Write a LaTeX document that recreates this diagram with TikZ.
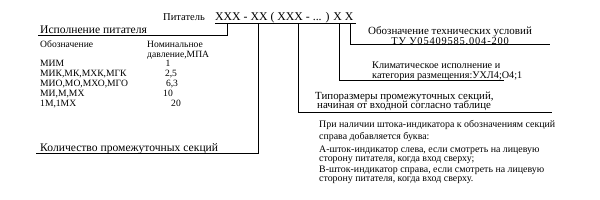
\documentclass[tikz,border=0pt]{standalone}
\usepackage{fontspec}
\setmainfont{Liberation Serif}
\begin{document}
\begin{tikzpicture}[x=1pt,y=-1pt,
  big/.style={anchor=base west,inner sep=0pt,font=\fontsize{11.6}{12}\selectfont},
  mid/.style={anchor=base west,inner sep=0pt,font=\fontsize{10.2}{11}\selectfont},
  sm/.style={anchor=base west,inner sep=0pt,font=\fontsize{9.6}{10}\selectfont},
  para/.style={anchor=base west,inner sep=0pt,font=\fontsize{9.9}{10}\selectfont},
  smc/.style={anchor=base,inner sep=0pt,font=\fontsize{9.6}{10}\selectfont},
  ln/.style={line width=0.8pt}]
\useasboundingbox (0,0) rectangle (600,200);
% header
\node[anchor=base west,inner sep=0pt,font=\fontsize{10.5}{12}\selectfont] (pit) at (163,21) {Питатель};
\node[anchor=base west,inner sep=0pt,font=\fontsize{11.8}{12}\selectfont] (code) at (215,21) {XXX - XX ( XXX - ... ) X X};
\coordinate (u0) at (215,23.3);
\coordinate (u1) at (356,23.3);
\draw[ln] (u0) -- (u1);
% table
\node[big] (isp) at (40,34) {Исполнение питателя};
\node[sm] (obz) at (40,47.5) {Обозначение};
\node[sm] (nom) at (147,47.5) {Номинальное};
\node[sm] (dav) at (147,57.5) {давление,МПА};
\node[sm] (r1) at (40,67) {МИМ};
\node[sm] (r2) at (40,77) {МИК,МК,МХК,МГК};
\node[sm] (r3) at (40,87) {МИО,МО,МХО,МГО};
\node[sm] (r4) at (40,97) {МИ,М,МХ};
\node[sm] (r5) at (40,107) {1М,1МХ};
\node[smc] (v1) at (168,67) {1};
\node[smc] (v2) at (171,77) {2,5};
\node[smc] (v3) at (172,87) {6,3};
\node[smc] (v4) at (168,97) {10};
\node[smc] (v5) at (176,107) {20};
\node[big] (kol) at (40,152) {Количество промежуточных секций};
% right labels
\node[anchor=base west,inner sep=0pt,font=\fontsize{11}{12}\selectfont] (obt) at (368,34.5) {Обозначение технических условий};
\node[anchor=base,inner sep=0pt,font=\fontsize{10.4}{11}\selectfont\addfontfeature{LetterSpace=8}] (tu) at (obt.base |- 0,44.4) {ТУ У05409585.004-200};
\node[mid] (kl1) at (372,68.5) {Климатическое исполнение и};
\node[mid] (kl2) at (372,78.5) {категория размещения:УХЛ4;О4;1};
\node[anchor=base west,inner sep=0pt,font=\fontsize{10.9}{11}\selectfont] (tip1) at (315,99.5) {Типоразмеры промежуточных секций,};
\node[anchor=base west,inner sep=0pt,font=\fontsize{10.9}{11}\selectfont] (tip2) at (317,109) {начиная от входной согласно таблице};
\node[para] (p1) at (319,128) {При наличии штока-индикатора к обозначениям секций};
\node[para] (p2) at (319,139.5) {справа добавляется буква:};
\node[para] (p3) at (319,153) {А-шток-индикатор слева, если смотреть на лицевую};
\node[para] (p4) at (319,162) {сторону питателя, когда вход сверху;};
\node[para] (p5) at (319,172.5) {В-шток-индикатор справа, если смотреть на лицевую};
\node[para] (p6) at (319,181.5) {сторону питателя, когда вход сверху.};
% connectors
\coordinate (a0) at (227,23.3);
\coordinate (a1) at (227,35.5);
\coordinate (a2) at (38,35.5);
\draw[ln] (a0) -- (a1) -- (a2);
\coordinate (b0) at (258.5,23.3);
\coordinate (b1) at (258.5,153);
\coordinate (b2) at (36,153);
\draw[ln] (b0) -- (b1) -- (b2);
\coordinate (c0) at (298.5,23.3);
\coordinate (c1) at (298.5,112.5);
\coordinate (c2) at (552,112.5);
\draw[ln] (c0) -- (c1) -- (c2);
\coordinate (d0) at (339,23.3);
\coordinate (d1) at (339,80.7);
\coordinate (d2) at (504,80.7);
\draw[ln] (d0) -- (d1) -- (d2);
\coordinate (e0) at (350,23.3);
\coordinate (e1) at (350,44.3);
\coordinate (e2) at (550,44.3);
\draw[ln] (e0) -- (e1) -- (e2);
\end{tikzpicture}
\end{document}
